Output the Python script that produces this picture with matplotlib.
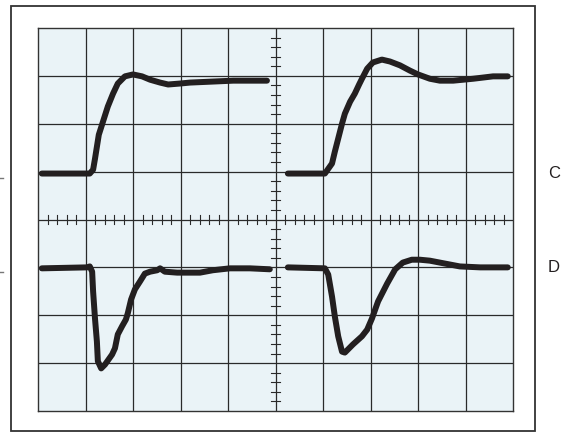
import matplotlib.pyplot as plt
from matplotlib.patches import Rectangle

# traces, in grid divisions (x: 0..10, y: -4..4)
a_t = [0.08, 1.01, 1.09, 1.16, 1.20, 1.24, 1.28, 1.37, 1.47, 1.58, 1.68, 1.83, 2.00, 2.19, 2.36, 2.57, 2.74,
       2.99, 3.20, 4.11, 4.82]
a_v = [0.96, 0.96, 0.96, 1.04, 1.27, 1.52, 1.77, 2.05, 2.36, 2.63, 2.84, 2.99, 3.03, 2.99, 2.92, 2.86, 2.82,
       2.84, 2.86, 2.90, 2.90]

b_t = [0.08, 1.03, 1.09, 1.14, 1.16, 1.20, 1.24, 1.26, 1.33, 1.41, 1.56, 1.62, 1.68, 1.77, 1.85, 1.89, 1.96,
       2.04, 2.15, 2.25, 2.36, 2.51, 2.57, 2.67, 2.93, 3.41, 3.68, 4.04, 4.46, 4.88]
b_v = [-1.02, -1.00, -0.98, -1.09, -1.50, -2.07, -2.55, -2.96, -3.11, -3.03, -2.82, -2.69, -2.40, -2.23, -2.09,
       -1.96, -1.67, -1.46, -1.29, -1.13, -1.09, -1.06, -1.02, -1.09, -1.11, -1.11, -1.06, -1.02, -1.02, -1.04]

c_t = [5.26, 6.04, 6.19, 6.25, 6.32, 6.40, 6.46, 6.57, 6.67, 6.76, 6.82, 6.93, 7.05, 7.24, 7.41, 7.62, 7.83,
       8.00, 8.25, 8.46, 8.74, 9.16, 9.58, 9.89]
c_v = [0.96, 0.96, 1.17, 1.42, 1.69, 2.00, 2.21, 2.46, 2.63, 2.82, 2.94, 3.15, 3.28, 3.34, 3.30, 3.22, 3.11,
       3.03, 2.94, 2.90, 2.90, 2.94, 2.99, 2.99]

d_t = [5.26, 6.04, 6.11, 6.19, 6.25, 6.32, 6.40, 6.46, 6.63, 6.82, 6.93, 7.03, 7.16, 7.35, 7.52, 7.68, 7.87,
       8.04, 8.25, 8.46, 8.67, 8.88, 9.31, 9.89]
d_v = [-1.00, -1.02, -1.15, -1.61, -2.03, -2.44, -2.76, -2.78, -2.61, -2.44, -2.30, -2.07, -1.71, -1.34, -1.04,
       -0.90, -0.84, -0.84, -0.86, -0.90, -0.94, -0.98, -1.00, -1.00]

W, H = 561, 433
fig = plt.figure(figsize=(W / 100, H / 100), dpi=100)
fig.patch.set_facecolor('white')

# outer frame
fig.patches.append(Rectangle((11 / W, 2 / H), 524 / W, 425 / H, transform=fig.transFigure,
                             fill=False, edgecolor='#333333', linewidth=1.3))

ax = fig.add_axes([38 / W, 22 / H, 475 / W, 383 / H])
ax.set_facecolor('#eaf3f7')
ax.set_xlim(0, 10)
ax.set_ylim(-4, 4)
ax.set_xticks([])
ax.set_yticks([])
for s in ax.spines.values():
    s.set_color('#333333')
    s.set_linewidth(1.0)

grid_col = '#2a2a2a'
for i in range(1, 10):
    ax.axvline(i, color=grid_col, lw=0.9)
for j in range(-3, 4):
    ax.axhline(j, color=grid_col, lw=0.9)

# minor ticks on the center lines
for k in range(50):
    if k % 5 == 0:
        continue
    ax.plot([k * 0.2, k * 0.2], [-0.1, 0.1], color=grid_col, lw=0.8)
for k in range(-20, 20):
    if k % 5 == 0:
        continue
    ax.plot([4.9, 5.1], [k * 0.2, k * 0.2], color=grid_col, lw=0.8)

tr = dict(color='#231f20', lw=4.3, solid_capstyle='round', solid_joinstyle='round')
ax.plot(a_t, a_v, **tr)
ax.plot(b_t, b_v, **tr)
ax.plot(c_t, c_v, **tr)
ax.plot(d_t, d_v, **tr)

lab = dict(fontsize=12, color='#231f20', va='center', ha='left', family=['Liberation Sans', 'DejaVu Sans'])
fig.text(548 / W, 1 - 173 / H, 'C', **lab)
fig.text(548 / W, 1 - 268 / H, 'D', **lab)

# clipped remnants of the left-hand channel labels
for yy in (178, 272):
    fig.add_artist(plt.Line2D([0, 2.5 / W], [1 - yy / H, 1 - yy / H], transform=fig.transFigure,
                              color='#777777', lw=1.0))

fig.savefig('out.png', dpi=100)
